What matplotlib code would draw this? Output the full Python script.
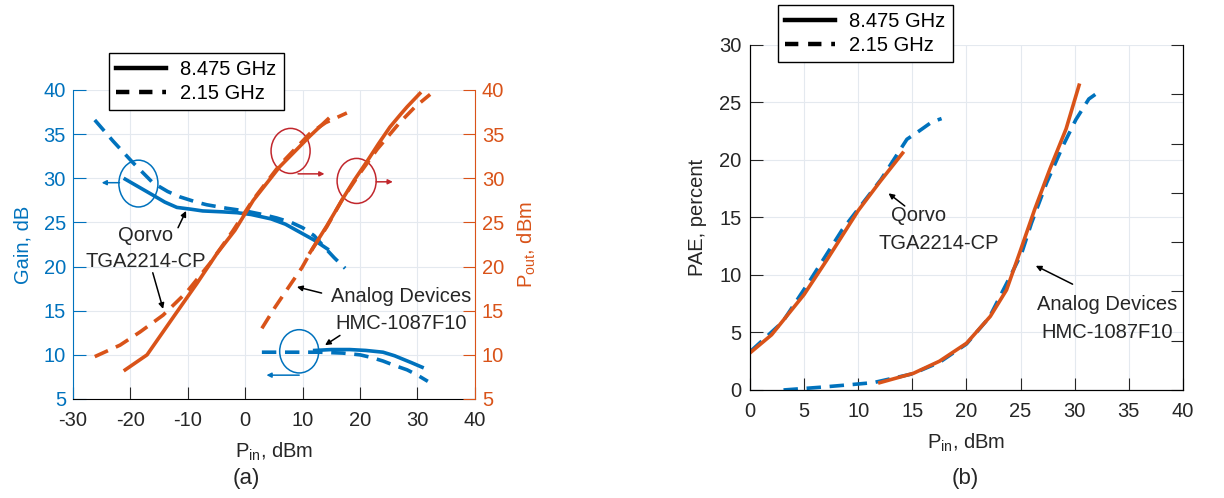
import numpy as np
import matplotlib.pyplot as plt
from matplotlib.patches import Ellipse
from matplotlib.lines import Line2D

plt.rcParams['font.family'] = ['Liberation Sans', 'DejaVu Sans']
plt.rcParams['mathtext.fontset'] = 'custom'
plt.rcParams['mathtext.rm'] = 'Liberation Sans'
plt.rcParams['mathtext.it'] = 'Liberation Sans:italic'
plt.rcParams['axes.unicode_minus'] = False

BLUE = '#0072BD'
ORANGE = '#D95319'
RED = '#C1272D'
GRID = '#e4e9ef'
TXT = '#262626'
DASH = (0, (4.0, 2.4))

# (a) gain and output power vs input power
qorvo_gain_8_x = [-20.9, -18.5, -16.1, -14.0, -11.9, -9.5, -7.4, -4.0, -1.4, 1.0, 4.5, 7.0, 9.5, 12.0, 14.3]
qorvo_gain_8_y = [29.9, 29.0, 28.1, 27.3, 26.7, 26.5, 26.3, 26.2, 26.1, 25.9, 25.4, 24.8, 23.9, 23.0, 22.0]
qorvo_gain_2_x = [-26.2, -23.0, -19.6, -16.1, -13.5, -11.4, -8.5, -6.7, -3.2, 0.0, 3.0, 5.5, 8.0, 10.0, 12.0, 13.5, 15.5, 17.4]
qorvo_gain_2_y = [36.6, 34.2, 31.8, 29.5, 28.5, 27.9, 27.3, 27.0, 26.6, 26.3, 25.9, 25.5, 25.0, 24.4, 23.5, 22.4, 21.0, 19.8]
qorvo_pout_8_x = [-20.9, -17.1, -12.6, -8.4, -4.9, -1.8, 1.4, 6.0, 11.3, 14.4]
qorvo_pout_8_y = [8.3, 10.0, 14.2, 18.1, 21.5, 24.1, 27.5, 31.3, 34.8, 36.7]
qorvo_pout_2_x = [-26.2, -21.8, -18.3, -14.3, -10.2, -6.1, -2.1, 1.4, 6.0, 11.3, 14.0, 17.7]
qorvo_pout_2_y = [9.8, 11.1, 12.6, 14.5, 17.1, 20.4, 24.1, 27.6, 31.5, 35.1, 36.3, 37.4]

ad_gain_8_x = [12.1, 15.0, 18.2, 21.0, 24.0, 26.0, 27.5, 29.0, 30.8]
ad_gain_8_y = [10.5, 10.6, 10.6, 10.5, 10.3, 9.9, 9.5, 9.1, 8.6]
ad_gain_2_x = [2.9, 6.0, 9.5, 13.0, 17.0, 20.0, 22.0, 24.0, 26.0, 28.2, 30.0, 31.8]
ad_gain_2_y = [10.3, 10.3, 10.3, 10.3, 10.2, 10.0, 9.7, 9.3, 8.8, 8.3, 7.7, 7.0]
ad_pout_8_x = [11.3, 14.2, 17.0, 19.0, 21.2, 23.2, 25.2, 27.0, 28.2, 30.4]
ad_pout_8_y = [21.6, 24.6, 27.7, 29.8, 31.9, 33.9, 35.8, 37.2, 38.1, 39.6]
ad_pout_2_x = [2.9, 5.2, 7.8, 9.9, 11.8, 14.2, 17.0, 20.0, 23.0, 26.9, 29.6, 32.2]
ad_pout_2_y = [13.0, 15.4, 17.9, 19.9, 22.1, 24.5, 27.7, 30.6, 33.3, 36.3, 38.1, 39.5]

# (b) PAE vs input power
qorvo_pae_8_x = [0.1, 2.0, 5.0, 7.1, 10.0, 12.0, 14.1]
qorvo_pae_8_y = [3.3, 4.8, 8.3, 11.3, 15.6, 18.1, 20.6]
qorvo_pae_2_x = [0.1, 3.0, 5.6, 8.5, 12.1, 14.5, 15.6, 16.8, 17.7]
qorvo_pae_2_y = [3.4, 5.9, 9.6, 13.9, 18.3, 21.8, 22.5, 23.3, 23.6]
ad_pae_8_x = [12.0, 15.1, 17.5, 20.0, 22.2, 23.7, 24.9, 26.3, 27.7, 29.2, 30.4]
ad_pae_8_y = [0.64, 1.45, 2.5, 4.06, 6.4, 8.7, 11.9, 15.7, 19.2, 22.7, 26.5]
ad_pae_2_x = [3.1, 6.4, 8.9, 11.4, 15.0, 17.5, 20.0, 22.1, 24.0, 25.1, 26.0, 27.4, 28.9, 30.1, 31.3, 31.9]
ad_pae_2_y = [0.0, 0.23, 0.43, 0.64, 1.4, 2.4, 4.0, 6.3, 9.8, 11.9, 14.5, 18.0, 21.2, 23.5, 25.3, 25.7]

fig = plt.figure(figsize=(12.24, 4.98), dpi=100)
ax1 = fig.add_axes([0.0596, 0.1988, 0.3284, 0.6205])
ax1r = ax1.twinx()
ax2 = fig.add_axes([0.6127, 0.2169, 0.3538, 0.6928])
ax2r = ax2.twinx()

lw = 2.6
fs = 14.5

# ---- panel (a)
ax1.plot(qorvo_gain_8_x, qorvo_gain_8_y, color=BLUE, lw=lw)
ax1.plot(qorvo_gain_2_x, qorvo_gain_2_y, color=BLUE, lw=lw, ls=DASH)
ax1.plot(ad_gain_8_x, ad_gain_8_y, color=BLUE, lw=lw)
ax1.plot(ad_gain_2_x, ad_gain_2_y, color=BLUE, lw=lw, ls=DASH)
ax1r.plot(qorvo_pout_8_x, qorvo_pout_8_y, color=ORANGE, lw=lw)
ax1r.plot(qorvo_pout_2_x, qorvo_pout_2_y, color=ORANGE, lw=lw, ls=DASH)
ax1r.plot(ad_pout_8_x, ad_pout_8_y, color=ORANGE, lw=lw)
ax1r.plot(ad_pout_2_x, ad_pout_2_y, color=ORANGE, lw=lw, ls=DASH)

ax1.set_xlim(-30, 40)
ax1.set_ylim(5, 40)
ax1r.set_ylim(5, 40)
ax1.set_xticks(range(-30, 41, 10))
ax1.set_yticks(range(5, 41, 5))
ax1r.set_yticks(range(5, 41, 5))
ax1.grid(True, color=GRID, lw=0.8)
ax1.set_axisbelow(True)

for a in (ax1, ax1r):
    a.spines['top'].set_visible(False)
ax1r.spines['left'].set_visible(False)
ax1r.spines['bottom'].set_visible(False)
ax1.spines['right'].set_visible(False)
ax1.spines['left'].set_color(BLUE)
ax1r.spines['right'].set_color(ORANGE)
ax1.tick_params(axis='x', direction='in', length=9, labelsize=fs, colors=TXT, pad=9)
ax1.tick_params(axis='y', direction='in', length=9, labelsize=fs, colors=BLUE, pad=5)
ax1r.tick_params(axis='y', direction='in', length=9, labelsize=fs, colors=ORANGE, pad=5)
ax1.set_ylabel('Gain, dB', color=BLUE, fontsize=fs, labelpad=8)
ax1r.set_ylabel('P$_{\\mathrm{out}}$, dBm', color=ORANGE, fontsize=fs, labelpad=8)
ax1.set_xlabel('P$_{\\mathrm{in}}$, dBm', fontsize=fs, color=TXT, labelpad=7)

# circles marking which axis each curve belongs to
head = dict(lw=1.1, mutation_scale=7, shrinkA=0, shrinkB=0)
ax1r.add_patch(Ellipse((-18.6, 29.4), 6.8, 5.3, fill=False, color=BLUE, lw=1.1))
ax1r.annotate('', xy=(-25.0, 29.5), xytext=(-21.9, 29.5),
              arrowprops=dict(arrowstyle='-|>', color=BLUE, **head))
ax1r.add_patch(Ellipse((9.4, 10.4), 6.8, 4.9, fill=False, color=BLUE, lw=1.1))
ax1r.annotate('', xy=(3.7, 7.7), xytext=(9.4, 7.7),
              arrowprops=dict(arrowstyle='-|>', color=BLUE, **head))
ax1r.add_patch(Ellipse((7.9, 33.1), 6.8, 5.1, fill=False, color=RED, lw=1.1))
ax1r.annotate('', xy=(13.8, 30.5), xytext=(9.2, 30.5),
              arrowprops=dict(arrowstyle='-|>', color=RED, **head))
ax1r.add_patch(Ellipse((19.4, 29.7), 6.8, 5.1, fill=False, color=RED, lw=1.1))
ax1r.annotate('', xy=(25.7, 29.6), xytext=(22.8, 29.6),
              arrowprops=dict(arrowstyle='-|>', color=RED, **head))

arr = dict(arrowstyle='-|>', color='black', lw=1.1, mutation_scale=8, shrinkA=0, shrinkB=0)
ax1r.text(-17.3, 23.5, 'Qorvo', fontsize=fs, ha='center', va='center', color=TXT)
ax1r.text(-17.3, 20.6, 'TGA2214-CP', fontsize=fs, ha='center', va='center', color=TXT)
ax1r.annotate('', xy=(-10.3, 26.3), xytext=(-11.7, 24.4), arrowprops=arr)
ax1r.annotate('', xy=(-14.3, 15.2), xytext=(-16.1, 19.3), arrowprops=arr)
ax1r.text(27.2, 16.6, 'Analog Devices', fontsize=fs, ha='center', va='center', color=TXT)
ax1r.text(27.2, 13.6, 'HMC-1087F10', fontsize=fs, ha='center', va='center', color=TXT)
ax1r.annotate('', xy=(9.0, 17.7), xytext=(13.3, 17.0), arrowprops=arr)
ax1r.annotate('', xy=(13.9, 11.1), xytext=(16.5, 12.2), arrowprops=arr)

# ---- panel (b)
ax2.plot(qorvo_pae_2_x, qorvo_pae_2_y, color=BLUE, lw=lw, ls=DASH)
ax2.plot(ad_pae_2_x, ad_pae_2_y, color=BLUE, lw=lw, ls=DASH)
ax2.plot(qorvo_pae_8_x, qorvo_pae_8_y, color=ORANGE, lw=lw)
ax2.plot(ad_pae_8_x, ad_pae_8_y, color=ORANGE, lw=lw)

ax2.set_xlim(0, 40)
ax2.set_ylim(0, 30)
ax2.set_xticks(range(0, 41, 5))
ax2.set_yticks(range(0, 31, 5))
ax2.grid(True, color=GRID, lw=0.8)
ax2.set_axisbelow(True)
ax2r.set_ylim(0, 35)
ax2r.set_yticks(range(0, 36, 5))
ax2r.set_yticklabels([])
for a in (ax2, ax2r):
    a.spines['top'].set_visible(False)
ax2.tick_params(direction='in', length=9, labelsize=fs, colors=TXT)
ax2.tick_params(axis='x', pad=9)
ax2.tick_params(axis='y', pad=6)
ax2r.tick_params(direction='in', length=9, colors=TXT)
ax2.set_ylabel('PAE, percent', fontsize=fs, color=TXT, labelpad=9)
ax2.set_xlabel('P$_{\\mathrm{in}}$, dBm', fontsize=fs, color=TXT, labelpad=7)

ax2.text(15.6, 15.2, 'Qorvo', fontsize=fs, ha='center', va='center', color=TXT)
ax2.text(17.4, 12.7, 'TGA2214-CP', fontsize=fs, ha='center', va='center', color=TXT)
ax2.annotate('', xy=(12.8, 17.1), xytext=(14.3, 16.0), arrowprops=arr)
ax2.text(33.0, 7.4, 'Analog Devices', fontsize=fs, ha='center', va='center', color=TXT)
ax2.text(33.0, 5.0, 'HMC-1087F10', fontsize=fs, ha='center', va='center', color=TXT)
ax2.annotate('', xy=(26.4, 10.8), xytext=(29.8, 9.2), arrowprops=arr)

# legends
handles = [Line2D([], [], color='black', lw=3.2), Line2D([], [], color='black', lw=3.2, ls=(0, (3.0, 2.2)))]
labels = ['8.475 GHz', '2.15 GHz']
for a, anchor in ((ax1r, (0.089, 0.894)), (ax2r, (0.6356, 0.99))):
    leg = a.legend(handles, labels, loc='upper left', bbox_to_anchor=anchor,
                   bbox_transform=fig.transFigure, fontsize=fs, fancybox=False,
                   edgecolor='black', framealpha=1, handlelength=2.5, handletextpad=0.7,
                   borderpad=0.35, labelspacing=0.25, borderaxespad=0)
    leg.get_frame().set_linewidth(1.0)

fig.text(0.201, 0.04, '(a)', fontsize=16, ha='center', va='center', color=TXT)
fig.text(0.789, 0.04, '(b)', fontsize=16, ha='center', va='center', color=TXT)

fig.savefig('out.png', dpi=100)
